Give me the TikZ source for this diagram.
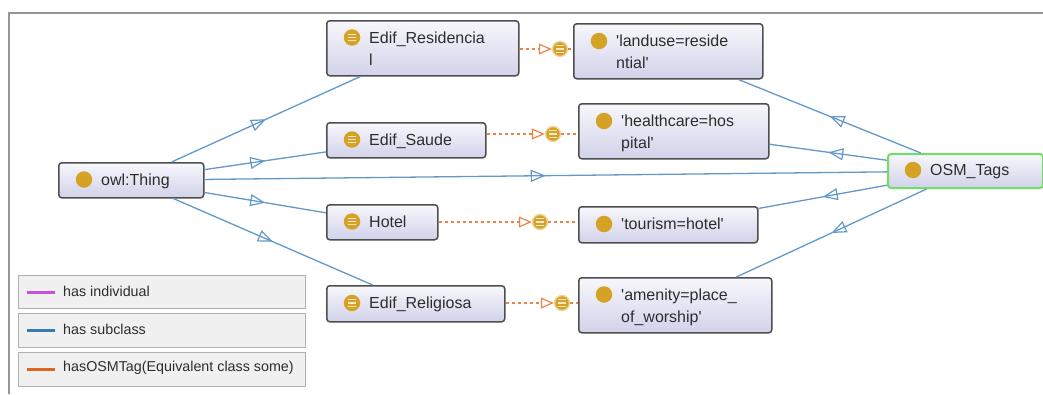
\documentclass[tikz,border=0pt]{standalone}
\usepackage{fontspec}
\setmainfont{Liberation Sans}
\usetikzlibrary{arrows.meta,decorations.markings}

\definecolor{boxtop}{RGB}{247,247,252}
\definecolor{boxbottom}{RGB}{210,210,234}
\definecolor{boxborder}{RGB}{78,78,78}
\definecolor{icongold}{RGB}{214,162,38}
\definecolor{subblue}{RGB}{98,152,202}
\definecolor{tagorange}{RGB}{236,130,76}
\definecolor{osmgreen}{RGB}{112,222,104}
\definecolor{framegray}{RGB}{150,150,150}
\definecolor{leggray}{RGB}{176,176,176}
\definecolor{legfill}{RGB}{240,240,240}
\definecolor{textgray}{RGB}{45,45,45}
\definecolor{legmagenta}{RGB}{200,80,220}
\definecolor{legblue}{RGB}{58,120,180}
\definecolor{legorange}{RGB}{222,102,34}

\begin{document}
\begin{tikzpicture}[x=1pt, y=-1pt,
	ontobox/.style={draw=boxborder, line width=1.5pt, rounded corners=3pt,
		top color=boxtop, bottom color=boxbottom, anchor=north west, inner sep=0pt},
	osmbox/.style={ontobox, draw=osmgreen, line width=2pt},
	lbl/.style={anchor=north west, inner sep=0pt, align=left, text=textgray,
		font=\fontsize{16}{22}\selectfont},
	indicon/.style={circle, fill=icongold, minimum size=16.5pt, inner sep=0pt},
	clsicon/.style={indicon, path picture={
		\foreach \dy in {-3.2,0,3.2}
			\draw[white!75!icongold, line width=1.1pt]
				([xshift=-3.8pt, yshift=\dy pt]path picture bounding box.center) -- ++(7.6pt,0pt);
		}},
	tagdot/.style={clsicon, minimum size=15pt, draw=icongold!45, line width=1.4pt},
	subedge/.style={draw=subblue, line width=1.3pt, decoration={markings,
		mark=at position 0.5 with {\arrow{Triangle[open, length=15pt, width=12pt, line width=1.2pt]}}},
		postaction={decorate}},
	tagedge/.style={draw=tagorange, line width=1.3pt, dash pattern=on 3pt off 3pt},
	tagtip/.style={-{Triangle[open, length=13pt, width=11pt, line width=1.2pt]}},
	legtext/.style={anchor=west, inner sep=0pt, text=textgray, font=\fontsize{14.3}{16}\selectfont}
	]
	\useasboundingbox (0,0) rectangle (1043,394);
	\draw[framegray, line width=2pt] (9,394) -- (9,12.5) -- (1043,12.5);
	
	\node[ontobox, minimum width=145pt, minimum height=35pt] (thing) at (58,162) {};
	\node[indicon] (thingicon) at ([shift={(26pt,-17.5pt)}]thing.north west) {};
	\node[lbl] (thinglbl) at ([shift={(43pt,-11.5pt)}]thing.north west) {owl:Thing};
	
	\node[ontobox, minimum width=192pt, minimum height=55pt] (res) at (326,20) {};
	\node[clsicon] (resicon) at ([shift={(26pt,-17.5pt)}]res.north west) {};
	\node[lbl] (reslbl) at ([shift={(43pt,-11.5pt)}]res.north west) {Edif\_Residencia\\l};
	
	\node[ontobox, minimum width=159pt, minimum height=35pt] (saude) at (326,122) {};
	\node[clsicon] (saudeicon) at ([shift={(26pt,-17.5pt)}]saude.north west) {};
	\node[lbl] (saudelbl) at ([shift={(43pt,-11.5pt)}]saude.north west) {Edif\_Saude};
	
	\node[ontobox, minimum width=111pt, minimum height=35pt] (hotel) at (326,204) {};
	\node[clsicon] (hotelicon) at ([shift={(26pt,-17.5pt)}]hotel.north west) {};
	\node[lbl] (hotellbl) at ([shift={(43pt,-11.5pt)}]hotel.north west) {Hotel};
	
	\node[ontobox, minimum width=178pt, minimum height=36pt] (relig) at (326,285) {};
	\node[clsicon] (religicon) at ([shift={(26pt,-18pt)}]relig.north west) {};
	\node[lbl] (religlbl) at ([shift={(43pt,-12pt)}]relig.north west) {Edif\_Religiosa};
	
	\node[ontobox, minimum width=189pt, minimum height=55pt] (landuse) at (573,23) {};
	\node[indicon] (landuseicon) at ([shift={(26pt,-18pt)}]landuse.north west) {};
	\node[lbl] (landuselbl) at ([shift={(43pt,-12pt)}]landuse.north west) {\textquotesingle landuse=reside\\ntial\textquotesingle};
	
	\node[ontobox, minimum width=190pt, minimum height=55pt] (health) at (578,103) {};
	\node[indicon] (healthicon) at ([shift={(26pt,-18pt)}]health.north west) {};
	\node[lbl] (healthlbl) at ([shift={(43pt,-12pt)}]health.north west) {\textquotesingle healthcare=hos\\pital\textquotesingle};
	
	\node[ontobox, minimum width=179pt, minimum height=36pt] (tourism) at (578,206) {};
	\node[indicon] (tourismicon) at ([shift={(26pt,-18pt)}]tourism.north west) {};
	\node[lbl] (tourismlbl) at ([shift={(43pt,-12pt)}]tourism.north west) {\textquotesingle tourism=hotel\textquotesingle};
	
	\node[ontobox, minimum width=193pt, minimum height=55pt] (amenity) at (578,277) {};
	\node[indicon] (amenityicon) at ([shift={(26pt,-17.5pt)}]amenity.north west) {};
	\node[lbl] (amenitylbl) at ([shift={(43pt,-11.5pt)}]amenity.north west) {\textquotesingle amenity=place\_\\of\_worship\textquotesingle};
	
	\node[osmbox, minimum width=155pt, minimum height=34pt] (osm) at (887,153) {};
	\node[indicon] (osmicon) at ([shift={(26pt,-17pt)}]osm.north west) {};
	\node[lbl] (osmlbl) at ([shift={(43pt,-11pt)}]osm.north west) {OSM\_Tags};
	
	\node[tagdot] (resdot) at (560,49) {};
	\node[tagdot] (saudedot) at (553,134) {};
	\node[tagdot] (hoteldot) at (540,222) {};
	\node[tagdot] (religdot) at (562,303) {};
	
	\draw[subedge] (thing) -- (res);
	\draw[subedge] (thing) -- (saude);
	\draw[subedge] (thing) -- (hotel);
	\draw[subedge] (thing) -- (relig);
	\draw[subedge] (thing) -- (osm);
	\draw[subedge] (osm) -- (landuse);
	\draw[subedge] (osm) -- (health);
	\draw[subedge] (osm) -- (tourism);
	\draw[subedge] (osm) -- (amenity);
	
	\draw[tagedge, tagtip] (res.east |- resdot) -- (resdot);
	\draw[tagedge] (resdot) -- (resdot -| landuse.west);
	\draw[tagedge, tagtip] (saude.east |- saudedot) -- (saudedot);
	\draw[tagedge] (saudedot) -- (saudedot -| health.west);
	\draw[tagedge, tagtip] (hotel.east |- hoteldot) -- (hoteldot);
	\draw[tagedge] (hoteldot) -- (hoteldot -| tourism.west);
	\draw[tagedge, tagtip] (relig.east |- religdot) -- (religdot);
	\draw[tagedge] (religdot) -- (religdot -| amenity.west);
	
	\draw[draw=leggray, fill=legfill, line width=1pt] (18,275) rectangle (305,308);
	\draw[draw=leggray, fill=legfill, line width=1pt] (18,313) rectangle (305,347);
	\draw[draw=leggray, fill=legfill, line width=1pt] (18,352) rectangle (305,386);
	\draw[legmagenta, line width=3pt] (27,292) -- (55,292);
	\draw[legblue, line width=3pt] (27,330) -- (55,330);
	\draw[legorange, line width=3pt] (27,369) -- (55,369);
	\node[legtext] (legind) at (63,291) {has individual};
	\node[legtext] (legsub) at (63,329) {has subclass};
	\node[legtext] (legtag) at (63,368) {hasOSMTag(Equivalent class some)};
	
\end{tikzpicture}
\end{document}
